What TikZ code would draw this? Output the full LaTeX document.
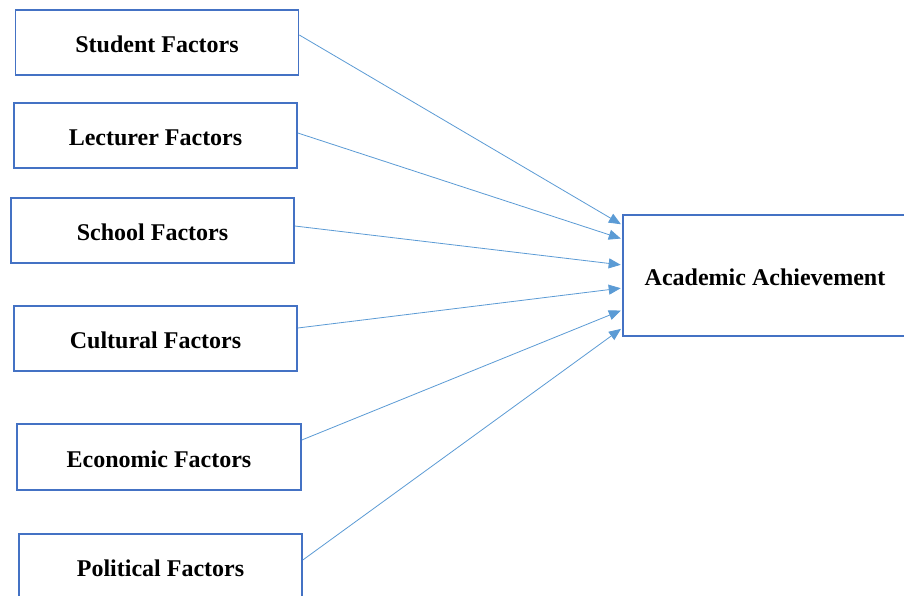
\documentclass[tikz,border=0pt]{standalone}
\usepackage{fontspec}
\setmainfont{Liberation Serif}
\usetikzlibrary{arrows.meta}
\definecolor{boxblue}{HTML}{4472C4}
\definecolor{arrblue}{HTML}{5B9BD5}
\begin{document}
\begin{tikzpicture}[x=1pt,y=-1pt,
  factor/.style={draw=boxblue,line width=1.6pt,fill=white,minimum width=283pt,minimum height=65pt,
    inner sep=0pt,text height=20.5pt,text depth=0pt,font=\fontsize{24}{28}\selectfont\bfseries},
  link/.style={draw=arrblue,line width=0.8pt,-{Triangle[length=12pt,width=10pt]},shorten >=1.5pt}]
\clip (0,0) rectangle (904,596);
\fill[white] (0,0) rectangle (904,596);
\node[factor] (st) at (157,42.5) {Student Factors};
\node[factor] (le) at (155.5,135.5) {Lecturer Factors};
\node[factor] (sc) at (152.5,230.5) {School Factors};
\node[factor] (cu) at (155.5,338.5) {Cultural Factors};
\node[factor,minimum width=284pt,minimum height=66pt] (ec) at (159,457) {Economic Factors};
\node[factor] (po) at (160.5,566.5) {Political Factors};
\node[factor,minimum width=284pt,minimum height=121pt] (ac) at (765,275.5) {Academic Achievement};
\draw[link] ([yshift=7.5pt]st.east) -- ([yshift=50.5pt]ac.west);
\draw[link] ([yshift=2.5pt]le.east) -- ([yshift=36.5pt]ac.west);
\draw[link] ([yshift=4.5pt]sc.east) -- ([yshift=10.5pt]ac.west);
\draw[link] ([yshift=10.5pt]cu.east) -- ([yshift=-12.5pt]ac.west);
\draw[link] ([yshift=17pt]ec.east) -- ([yshift=-34.5pt]ac.west);
\draw[link] ([yshift=6.5pt]po.east) -- ([yshift=-52.5pt]ac.west);
\end{tikzpicture}
\end{document}
